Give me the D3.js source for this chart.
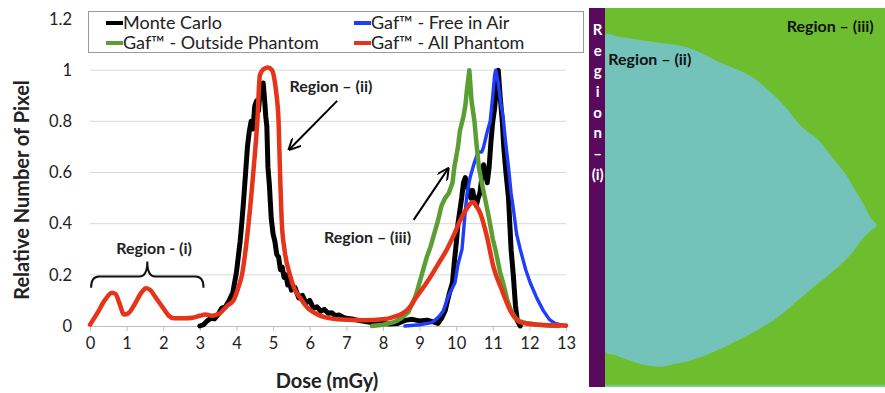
<!DOCTYPE html>
<html><head><meta charset="utf-8">
<script src="https://cdn.jsdelivr.net/npm/d3@7"></script>
<style>
body{margin:0;background:#fff}
svg{display:block}
text{font-family:Lato,"Open Sans",sans-serif}
</style>
</head><body>
<svg id="c" width="885" height="393"></svg>
<script>
// ---------- data ----------
const xTicks = [0,1,2,3,4,5,6,7,8,9,10,11,12,13];
const yTicks = [0,0.2,0.4,0.6,0.8,1,1.2];
const yTickLabels = ["0","0.2","0.4","0.6","0.8","1","1.2"];
const seriesNames = ["Monte Carlo","Gaf\u2122 - Free in Air","Gaf\u2122 - Outside Phantom","Gaf\u2122 - All Phantom"];

const monteCarlo = [[3.0,0],[3.1,0.005],[3.2,0.02],[3.3,0.03],[3.4,0.028],[3.5,0.045],[3.6,0.07],[3.7,0.075],[3.8,0.1],[3.9,0.13],[3.95,0.17],[4.0,0.21],[4.05,0.27],[4.1,0.33],[4.15,0.41],[4.2,0.5],[4.25,0.6],[4.3,0.7],[4.35,0.76],[4.4,0.8],[4.45,0.77],[4.5,0.86],[4.55,0.88],[4.6,0.84],[4.65,0.92],[4.7,0.93],[4.73,0.95],[4.76,0.9],[4.8,0.82],[4.83,0.78],[4.86,0.62],[4.9,0.55],[4.95,0.42],[5.0,0.36],[5.05,0.33],[5.1,0.28],[5.15,0.27],[5.2,0.22],[5.25,0.23],[5.3,0.19],[5.35,0.2],[5.4,0.16],[5.45,0.17],[5.5,0.14],[5.6,0.15],[5.7,0.11],[5.8,0.12],[5.9,0.09],[6.0,0.1],[6.1,0.07],[6.2,0.075],[6.3,0.058],[6.4,0.065],[6.5,0.05],[6.6,0.052],[6.7,0.04],[6.8,0.043],[6.9,0.035],[7.0,0.03],[7.2,0.026],[7.4,0.02],[7.6,0.016],[7.8,0.012],[8.0,0.01],[8.2,0.008],[8.4,0.01],[8.6,0.022],[8.8,0.026],[9.0,0.02],[9.2,0.023],[9.4,0.015],[9.5,0.01],[9.6,0.03],[9.7,0.06],[9.8,0.12],[9.9,0.17],[9.95,0.25],[10.0,0.32],[10.05,0.4],[10.1,0.45],[10.15,0.5],[10.2,0.56],[10.25,0.58],[10.3,0.55],[10.35,0.52],[10.4,0.5],[10.45,0.53],[10.5,0.49],[10.55,0.47],[10.6,0.5],[10.65,0.52],[10.7,0.58],[10.75,0.63],[10.8,0.6],[10.85,0.56],[10.9,0.62],[10.95,0.72],[11.0,0.8],[11.05,0.85],[11.1,0.93],[11.15,1.0],[11.2,0.9],[11.26,0.8],[11.3,0.7],[11.36,0.6],[11.43,0.5],[11.5,0.3],[11.56,0.2],[11.62,0.08],[11.67,0.02],[11.75,0]];

const freeInAir = [[8.6,0],[9.0,0.005],[9.3,0.012],[9.4,0.02],[9.55,0.04],[9.65,0.06],[9.8,0.12],[9.97,0.17],[10.05,0.24],[10.16,0.3],[10.22,0.4],[10.25,0.45],[10.3,0.52],[10.38,0.58],[10.5,0.64],[10.6,0.68],[10.7,0.68],[10.75,0.7],[10.85,0.76],[10.93,0.8],[11.0,0.9],[11.05,0.98],[11.08,1.0],[11.15,0.95],[11.22,0.87],[11.28,0.82],[11.35,0.72],[11.43,0.62],[11.5,0.52],[11.57,0.45],[11.65,0.36],[11.75,0.3],[11.9,0.22],[12.02,0.17],[12.2,0.11],[12.38,0.06],[12.55,0.025],[12.7,0.01],[12.9,0.003],[13,0]];

const outsidePhantom = [[7.7,0],[8.0,0.005],[8.3,0.015],[8.5,0.03],[8.7,0.055],[8.9,0.12],[9.0,0.17],[9.1,0.22],[9.2,0.27],[9.3,0.31],[9.4,0.36],[9.5,0.41],[9.6,0.47],[9.7,0.5],[9.8,0.52],[9.9,0.56],[9.95,0.62],[10.05,0.7],[10.1,0.76],[10.2,0.82],[10.25,0.86],[10.3,0.93],[10.36,1.0],[10.42,0.88],[10.5,0.8],[10.55,0.72],[10.62,0.62],[10.7,0.56],[10.8,0.49],[10.9,0.42],[11.0,0.34],[11.07,0.3],[11.2,0.21],[11.28,0.17],[11.4,0.1],[11.5,0.06],[11.6,0.035],[11.7,0.02],[11.9,0.012],[12.2,0.006],[12.5,0.002],[12.8,0]];

const allPhantom = [[0,0.005],[0.2,0.05],[0.4,0.1],[0.6,0.13],[0.7,0.125],[0.8,0.09],[0.93,0.045],[1.05,0.05],[1.2,0.08],[1.4,0.13],[1.53,0.148],[1.65,0.14],[1.8,0.11],[2.0,0.07],[2.15,0.04],[2.3,0.03],[2.6,0.03],[2.8,0.032],[3.0,0.04],[3.15,0.045],[3.35,0.04],[3.55,0.05],[3.75,0.08],[3.92,0.1],[4.05,0.15],[4.15,0.2],[4.33,0.4],[4.46,0.6],[4.57,0.8],[4.64,0.98],[4.75,1.005],[4.86,1.01],[4.97,1.0],[5.03,0.97],[5.08,0.92],[5.15,0.8],[5.19,0.6],[5.24,0.4],[5.31,0.3],[5.46,0.2],[5.6,0.14],[5.74,0.11],[5.95,0.07],[6.15,0.05],[6.4,0.035],[6.9,0.025],[7.5,0.022],[8.0,0.026],[8.28,0.035],[8.55,0.05],[8.74,0.075],[8.9,0.11],[9.1,0.15],[9.29,0.19],[9.5,0.24],[9.75,0.3],[9.95,0.36],[10.1,0.41],[10.25,0.45],[10.4,0.48],[10.47,0.485],[10.55,0.47],[10.66,0.44],[10.84,0.35],[11.02,0.23],[11.25,0.14],[11.48,0.06],[11.75,0.015],[12.2,0.005],[13,0.002]];

const annotations = [
  {text:"Region \u2013 (ii)", dose:6.58, val:0.915},
  {text:"Region \u2013 (iii)", dose:7.58, val:0.325},
  {text:"Region - (i)", dose:1.75, val:0.28}
];
// right panel picture outline (picture units)
const regionIIOutline = [[60,105],[100,110],[200,125],[300,140],[350,160],[400,185],[500,230],[560,280],[600,320],[650,380],[700,420],[740,470],[780,520],[810,570],[840,620],[855,650],[870,668],[876,676],[860,690],[830,720],[800,760],[760,800],[700,850],[640,900],[580,950],[500,1000],[420,1040],[350,1070],[280,1090],[230,1100],[180,1095],[130,1080],[90,1065],[62,1055]];
const regionILetters = ["R","e","g","i","o","n","\u2013","(i)"];

// ---------- chart ----------
const svg = d3.select("#c");
const x = d3.scaleLinear([0,13],[90,566]);
const y = d3.scaleLinear([0,1.2],[326,19]);
const colors = ["#000000","#1f3dff","#5a9e34","#e5341a"];
const widths = [5,3.4,4.5,4.5];

// gridlines
svg.append("g").selectAll("line").data(yTicks.filter(d=>d>0)).join("line")
  .attr("x1",x(0)).attr("x2",x(13)).attr("y1",d=>y(d)).attr("y2",d=>y(d))
  .attr("stroke","#d9d9d9").attr("stroke-width",1);

// x axis
const xAxis = svg.append("g").attr("transform",`translate(0,${y(0)})`)
  .call(d3.axisBottom(x).tickValues(xTicks).tickFormat(d3.format("d")).tickSize(5).tickPadding(6));
xAxis.select(".domain").attr("stroke","#bfbfbf");
xAxis.selectAll(".tick line").attr("stroke","#bfbfbf");
xAxis.selectAll("text").attr("font-size",16.5).attr("fill","#222").attr("font-family","Lato");

// y axis labels
const yAxis = svg.append("g").attr("transform",`translate(${x(0)},0)`)
  .call(d3.axisLeft(y).tickValues(yTicks).tickFormat((d,i)=>yTickLabels[i]).tickSize(0).tickPadding(18));
yAxis.select(".domain").remove();
yAxis.selectAll("text").attr("font-size",16.5).attr("fill","#222").attr("font-family","Lato");

// series
const line = d3.line().x(d=>x(d[0])).y(d=>y(d[1]));
const smooth = d3.line().x(d=>x(d[0])).y(d=>y(d[1])).curve(d3.curveMonotoneX);
const allSeries = [monteCarlo, freeInAir, outsidePhantom, allPhantom];
allSeries.forEach((s,i)=>{
  svg.append("path").datum(s).attr("d", i===3 ? smooth : line)
    .attr("fill","none").attr("stroke",colors[i]).attr("stroke-width",widths[i])
    .attr("stroke-linejoin","round").attr("stroke-linecap","round");
});

// legend
const lg = svg.append("g");
lg.append("rect").attr("x",88.5).attr("y",11.5).attr("width",495).attr("height",41)
  .attr("fill","#fff").attr("stroke","#9a9a9a").attr("stroke-width",1);
const legPos = [[106,23],[354,23],[106,43],[354,43]];
seriesNames.forEach((n,i)=>{
  const [lx,ly] = legPos[i];
  lg.append("line").attr("x1",lx).attr("x2",lx+17).attr("y1",ly).attr("y2",ly)
    .attr("stroke",colors[i]).attr("stroke-width",4);
  lg.append("text").attr("x",lx+17).attr("y",ly+6).attr("font-size",18).attr("fill","#222").text(n);
});

// axis titles
svg.append("text").attr("x",327).attr("y",388).attr("text-anchor","middle")
  .attr("font-size",20).attr("font-weight","bold").attr("fill","#222").text("Dose (mGy)");
svg.append("text").attr("transform","translate(29,190) rotate(-90)").attr("text-anchor","middle")
  .attr("font-size",20).attr("font-weight","bold").attr("fill","#222").text("Relative Number of Pixel");

// annotations
annotations.forEach(a=>{
  svg.append("text").attr("x",x(a.dose)).attr("y",y(a.val)).attr("text-anchor","middle")
    .attr("font-size",16).attr("font-weight","bold").attr("fill","#222").text(a.text);
});
// arrow marker
svg.append("defs").append("marker").attr("id","ah").attr("viewBox","0 0 10 10")
  .attr("refX",9).attr("refY",5).attr("markerWidth",6).attr("markerHeight",6).attr("orient","auto")
  .append("path").attr("d","M0,0 L10,5 L0,10").attr("fill","none").attr("stroke","#000").attr("stroke-width",1.6);
const arrows = [[[6.75,0.88],[5.44,0.69]],[[8.84,0.415],[9.78,0.615]]];
arrows.forEach(([p0,p1])=>{
  svg.append("line").attr("x1",x(p0[0])).attr("y1",y(p0[1])).attr("x2",x(p1[0])).attr("y2",y(p1[1]))
    .attr("stroke","#000").attr("stroke-width",2).attr("marker-end","url(#ah)");
});
// brace for region (i)
{
  const bx0=x(0.03), bx1=x(3.1), bm=(bx0+bx1)/2, by=y(0.193), tip=y(0.252), end=y(0.15);
  const d = `M${bx0},${end} Q${bx0},${by} ${bx0+8},${by} L${bm-8},${by} Q${bm},${by} ${bm},${tip} Q${bm},${by} ${bm+8},${by} L${bx1-8},${by} Q${bx1},${by} ${bx1},${end}`;
  svg.append("path").attr("d",d).attr("fill","none").attr("stroke","#111").attr("stroke-width",2);
}

// ---------- right panel picture ----------
const px = d3.scaleLinear([12,900],[589,885]);
const py = d3.scaleLinear([24,1161],[8,387]);
const pg = svg.append("g");
pg.append("rect").attr("x",px(12)).attr("y",py(24)).attr("width",px(900)-px(12)).attr("height",py(1161)-py(24)).attr("fill","#6dbe2e");
pg.append("path").datum(regionIIOutline)
  .attr("d", d3.line().x(d=>px(d[0])).y(d=>py(d[1])).curve(d3.curveCatmullRomClosed))
  .attr("fill","#74c3bb");
pg.append("path").datum([[55,1154],[900,1154],[900,1161],[55,1161]])
  .attr("d", d3.line().x(d=>px(d[0])).y(d=>py(d[1]))).attr("fill","#8fcfd0").attr("opacity",0.6);
pg.append("rect").attr("x",px(12)).attr("y",py(24)).attr("width",px(60)-px(12)).attr("height",py(1161)-py(24)).attr("fill","#5a0a5c");
regionILetters.forEach((l,i)=>{
  pg.append("text").attr("x",px(38)).attr("y",py(105+i*62)).attr("text-anchor","middle")
    .attr("font-size",15).attr("font-weight","bold").attr("fill","#fff").text(l);
});
pg.append("text").attr("x",px(70)).attr("y",py(195)).attr("font-size",16).attr("font-weight","bold").attr("fill","#111").text("Region \u2013 (ii)");
pg.append("text").attr("x",px(605)).attr("y",py(95)).attr("font-size",16).attr("font-weight","bold").attr("fill","#111").text("Region \u2013 (iii)");
</script>
</body></html>
